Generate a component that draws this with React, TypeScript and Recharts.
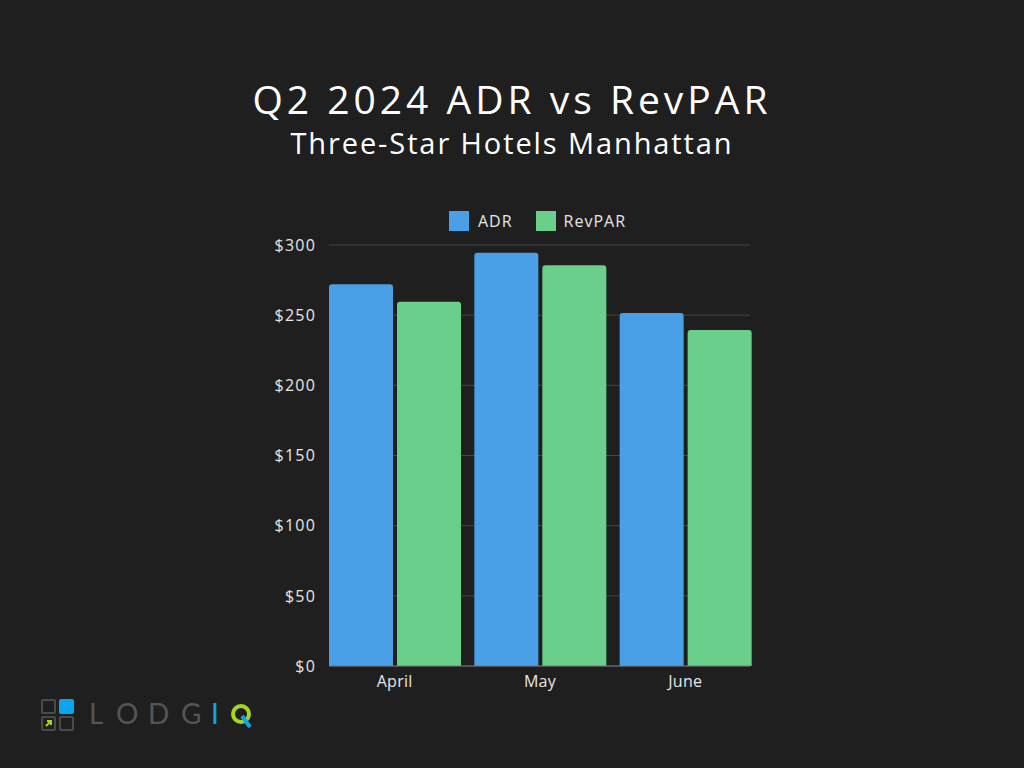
import React from "react";
import { BarChart, Bar, XAxis, YAxis, CartesianGrid, Legend } from "recharts";

const months = ["April", "May", "June"];
const adrValues = [272, 294.5, 251.5];
const revparValues = [259.5, 285.5, 239.5];
const yTicks = [0, 50, 100, 150, 200, 250, 300];

const data = months.map((m, i) => ({ month: m, ADR: adrValues[i], RevPAR: revparValues[i] }));

const FONT = "'Open Sans', Lato, sans-serif";
const BLUE = "#4aa0e6";
const GREEN = "#6acf8b";

const LegendContent = () => (
  <div style={{ display: "flex", justifyContent: "center", alignItems: "center", fontFamily: FONT, fontSize: 16, color: "#e6e6e6", letterSpacing: 1 }}>
    <span style={{ display: "inline-block", width: 20, height: 20, background: BLUE, marginRight: 9 }} />
    <span style={{ marginRight: 23 }}>ADR</span>
    <span style={{ display: "inline-block", width: 20, height: 20, background: GREEN, marginRight: 8 }} />
    <span>RevPAR</span>
  </div>
);

const Logo = () => {
  const sq = (x: number, y: number, filled: boolean) => (
    <div
      style={{
        position: "absolute",
        left: x,
        top: y,
        width: 15,
        height: 15,
        boxSizing: "border-box",
        borderRadius: 2,
        background: filled ? "#0aa5ef" : "transparent",
        border: filled ? "none" : "2px solid #4a4a4a",
      }}
    />
  );
  const letters = [
    { ch: "L", x: 89, c: "#555" },
    { ch: "O", x: 116, c: "#555" },
    { ch: "D", x: 148, c: "#555" },
    { ch: "G", x: 181, c: "#555" },
    { ch: "I", x: 211, c: "#0aa5ef" },
  ];
  return (
    <>
      {sq(41, 699, false)}
      {sq(59, 699, true)}
      {sq(41, 716, false)}
      {sq(59, 716, false)}
      <svg style={{ position: "absolute", left: 44, top: 718 }} width="10" height="10">
        <path d="M2 8 L7 3 M3 3 L7 3 L7 7" stroke="#a6d51f" strokeWidth="2" fill="none" />
      </svg>
      {letters.map((l) => (
        <div key={l.ch} style={{ position: "absolute", left: l.x, top: 697, fontFamily: "Lato, sans-serif", fontSize: 28, color: l.c, lineHeight: "32px" }}>
          {l.ch}
        </div>
      ))}
      <svg style={{ position: "absolute", left: 230, top: 702 }} width="26" height="28">
        <circle cx="11" cy="12" r="8" stroke="#a6d51f" strokeWidth="4" fill="none" />
        <path d="M12 14 L20 25" stroke="#0aa5ef" strokeWidth="4" />
      </svg>
    </>
  );
};

export default function App() {
  return (
    <div style={{ position: "absolute", left: 0, top: 0, width: 1024, height: 768, background: "#1f1f1f", overflow: "hidden" }}>
      <div style={{ position: "absolute", top: 72, left: 0, width: 1024, textAlign: "center", fontFamily: FONT, fontSize: 39, color: "#ffffff", lineHeight: "54px", letterSpacing: 4 }}>
        Q2 2024 ADR vs RevPAR
      </div>
      <div style={{ position: "absolute", top: 122, left: 0, width: 1024, textAlign: "center", fontFamily: FONT, fontSize: 29, color: "#ffffff", lineHeight: "42px", letterSpacing: 1.9 }}>
        Three-Star Hotels Manhattan
      </div>
      <div style={{ position: "absolute", left: 0, top: 0 }}>
        <BarChart
          width={1024}
          height={768}
          data={data}
          margin={{ top: 245, right: 274, bottom: 72, left: 269 }}
          barGap={4}
          barCategoryGap={7}
        >
          <CartesianGrid vertical={false} stroke="#454545" />
          <XAxis
            dataKey="month"
            padding={{ left: -7, right: -8 }}
            tickLine={false}
            axisLine={{ stroke: "#777" }}
            tick={{ fill: "#e6e6e6", fontSize: 16, fontFamily: FONT, letterSpacing: 0.3 }}
            height={30}
            dy={2}
          />
          <YAxis
            domain={[0, 300]}
            ticks={yTicks}
            width={60}
            tickLine={false}
            axisLine={false}
            tickFormatter={(v: number) => `$${v}`}
            tick={{ fill: "#e6e6e6", fontSize: 16, fontFamily: FONT, letterSpacing: 1.2 }}
            tickMargin={7}
          />
          <Legend
            layout="horizontal"
            verticalAlign="middle"
            align="center"
            content={<LegendContent />}
            wrapperStyle={{ top: 210, left: 265, width: 545 }}
          />
          <Bar dataKey="ADR" fill={BLUE} radius={[3, 3, 0, 0]} isAnimationActive={false} />
          <Bar dataKey="RevPAR" fill={GREEN} radius={[3, 3, 0, 0]} isAnimationActive={false} />
        </BarChart>
      </div>
      <Logo />
    </div>
  );
}
